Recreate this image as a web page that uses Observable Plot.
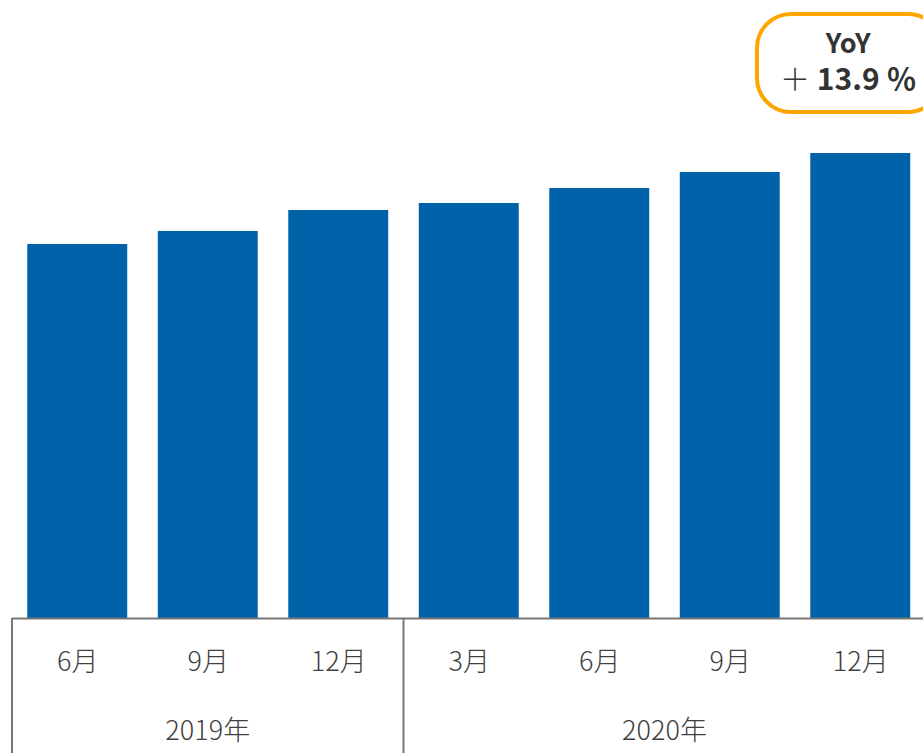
<!DOCTYPE html>
<html>
<head>
<meta charset="utf-8">
<script src="https://cdn.jsdelivr.net/npm/d3@7"></script>
<script src="https://cdn.jsdelivr.net/npm/@observablehq/plot@0.6"></script>
<style>
  html, body { margin: 0; padding: 0; background: #fff; }
  #chart svg { display: block; }
</style>
</head>
<body>
<div id="chart"></div>
<script>
// Data
const keys = ["2019-06", "2019-09", "2019-12", "2020-03", "2020-06", "2020-09", "2020-12"];
const months = ["6月", "9月", "12月", "3月", "6月", "9月", "12月"];
const values = [37.4, 38.7, 40.8, 41.5, 43.0, 44.6, 46.5];
const years = ["2019年", "2020年"];
const yearStartIndex = [0, 3];
const yearSpan = [3, 4];
const calloutLines = ["YoY", "13.9 ％"];

const W = 923, H = 753;
const font = "'Noto Sans CJK JP', 'Noto Sans', sans-serif";
const barColor = "#0063A9";
const lineColor = "#777777";
const textColor = "#404040";

const table = keys.map((k, i) => ({key: k, month: months[i], value: values[i]}));

const plot = Plot.plot({
  width: W,
  height: H,
  marginTop: 0,
  marginLeft: 12,
  marginRight: 0,
  marginBottom: 135,
  style: {fontFamily: font, background: "#fff"},
  x: {domain: keys, range: [12, 925.5], paddingInner: 0.234, paddingOuter: 0.117, round: false, axis: null},
  y: {domain: [0, 61.8], axis: null},
  marks: [
    Plot.barY(table, {x: "key", y: "value", fill: barColor}),
    Plot.ruleY([0], {stroke: lineColor, strokeWidth: 2}),
    Plot.text(table, {x: "key", text: "month", frameAnchor: "bottom", dy: 44, fontSize: 27, fontWeight: 300, fill: textColor, fontFamily: font})
  ]
});

const svg = d3.select(plot);
const xs = plot.scale("x");
const step = (925.5 - 12) / keys.length;
const y0 = 618;
const bw = xs.bandwidth;

yearStartIndex.forEach((start, j) => {
  const left = xs.apply(keys[start]) - (step - bw) / 2;
  svg.append("line").attr("x1", left).attr("x2", left).attr("y1", y0).attr("y2", H)
    .attr("stroke", lineColor).attr("stroke-width", 2);
  const cx = left + step * yearSpan[j] / 2;
  svg.append("text").attr("x", cx).attr("y", 733).attr("text-anchor", "middle")
    .attr("dominant-baseline", "middle")
    .attr("font-family", font).attr("font-size", 27).attr("font-weight", 300).attr("fill", textColor)
    .text(years[j]);
});

// callout
const lastCx = xs.apply(keys[keys.length - 1]) + bw / 2;
const cx = lastCx - 12;
svg.append("rect").attr("x", 757).attr("y", 14).attr("width", 185).attr("height", 98)
  .attr("rx", 34).attr("ry", 34).attr("fill", "#fff").attr("stroke", "#FFA500").attr("stroke-width", 4);
const t = svg.append("text").attr("text-anchor", "middle").attr("font-family", font).attr("fill", "#333");
t.append("tspan").attr("x", cx).attr("y", 53).attr("font-weight", 700).attr("font-size", 27).text(calloutLines[0]);
t.append("tspan").attr("x", cx).attr("y", 90).attr("font-weight", 300).attr("font-size", 30).text("＋ ");
t.append("tspan").attr("font-weight", 700).attr("font-size", 30).text(calloutLines[1]);

document.getElementById("chart").appendChild(plot);

// shift month labels down
svg.selectAll("g[aria-label='text'] text").each(function() {
  const el = d3.select(this);
  const tr = el.attr("transform");
  if (tr) el.attr("transform", tr.replace(/translate\(([^,]+),([^)]+)\)/, (m, a, b) => `translate(${a},${+b + 8})`));
});
</script>
</body>
</html>
